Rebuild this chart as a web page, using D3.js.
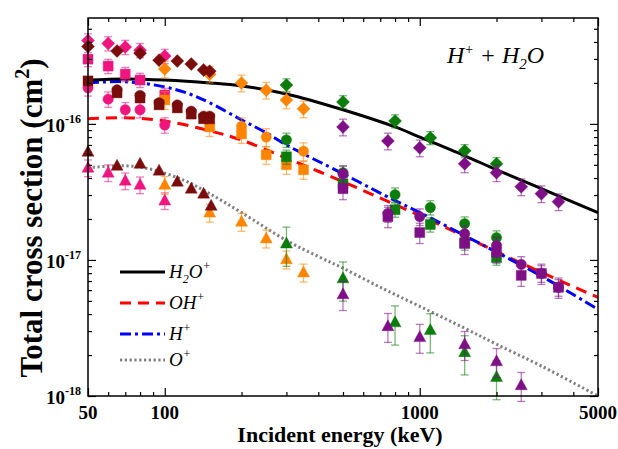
<!DOCTYPE html>
<html>
<head>
<meta charset="utf-8">
<script src="https://cdn.jsdelivr.net/npm/d3@7"></script>
<style>
body { margin: 0; background: #fff; }
svg { display: block; }
</style>
</head>
<body>
<div id="chart"></div>
<script>
// energies in keV, cross sections in cm^2, [energy, sigma]
var curveH2O = [[50,2.10e-16],[70,2.14e-16],[100,2.10e-16],[150,2.00e-16],[200,1.90e-16],[300,1.66e-16],[500,1.27e-16],[800,9.5e-17],[1000,8.0e-17],[1500,5.83e-17],[2000,4.6e-17],[3000,3.34e-17],[5000,2.23e-17]];
var curveOH = [[50,1.09e-16],[70,1.11e-16],[100,1.05e-16],[150,8.9e-17],[200,7.6e-17],[300,5.6e-17],[500,3.76e-17],[800,2.55e-17],[1000,2.12e-17],[1500,1.49e-17],[2000,1.15e-17],[3000,8.1e-18],[5000,5.3e-18]];
var curveH = [[50,2.00e-16],[70,2.04e-16],[100,1.87e-16],[125,1.66e-16],[150,1.43e-16],[200,1.07e-16],[250,8.6e-17],[300,7.0e-17],[500,4.3e-17],[800,2.73e-17],[1000,2.23e-17],[1500,1.51e-17],[2000,1.14e-17],[3000,7.6e-18],[5000,4.34e-18]];
var curveO = [[50,4.76e-17],[70,4.92e-17],[90,4.6e-17],[120,3.82e-17],[150,3.07e-17],[200,2.23e-17],[300,1.39e-17],[400,1.06e-17],[500,8.7e-18],[700,6.3e-18],[1000,4.56e-18],[1500,3.15e-18],[2000,2.4e-18],[3000,1.66e-18],[5000,1.0e-18]];

// measured points [energy, sigma]
var pinkDiamonds = [[50,4.1e-16],[60,3.9e-16],[70,3.67e-16],[80,3.48e-16],[100,3.15e-16]];
var pinkSquares = [[50,2.99e-16],[60,2.66e-16],[70,2.32e-16],[80,2.10e-16],[100,1.63e-16]];
var pinkCircles = [[50,1.84e-16],[60,1.52e-16],[70,1.27e-16],[80,1.27e-16],[100,9.8e-17]];
var pinkTriangles = [[50,4.76e-17],[60,4.38e-17],[70,3.82e-17],[80,3.57e-17],[100,2.73e-17]];
var redDiamonds = [[50,3.7e-16],[65,3.43e-16],[80,3.31e-16],[95,2.94e-16],[112,2.9e-16],[127,2.75e-16],[142,2.49e-16],[150,2.44e-16]];
var redCircles = [[65,1.78e-16],[80,1.62e-16],[95,1.43e-16],[112,1.38e-16],[127,1.24e-16],[142,1.14e-16],[150,1.14e-16]];
var redSquares = [[50,2.07e-16],[65,1.69e-16],[80,1.55e-16],[95,1.38e-16],[112,1.31e-16],[127,1.18e-16],[142,1.09e-16],[150,1.09e-16]];
var redTriangles = [[50,6.24e-17],[65,4.92e-17],[80,5.09e-17],[95,4.53e-17],[112,3.76e-17],[127,3.34e-17],[142,3.07e-17],[152,2.5e-17]];
var orangeDiamonds = [[100,2.53e-16],[150,2.32e-16],[200,2.0e-16],[250,1.77e-16],[300,1.50e-16],[350,1.29e-16]];
var orangeCircles = [[200,9.6e-17],[250,8.0e-17],[350,6.3e-17]];
var orangeSquares = [[100,1.5e-16],[150,9.5e-17],[200,8.45e-17],[250,5.93e-17],[300,5.01e-17],[350,4.6e-17]];
var orangeTriangles = [[100,3.57e-17],[150,2.23e-17],[200,1.91e-17],[250,1.44e-17],[300,1.01e-17],[350,8.1e-18]];
var greenDiamonds = [[300,1.93e-16],[500,1.45e-16],[800,1.05e-16],[1100,7.9e-17],[1500,6.34e-17],[2000,5.09e-17]];
var greenCircles = [[300,7.63e-17],[500,4.38e-17],[800,3.02e-17],[1100,2.43e-17],[1500,1.85e-17],[2000,1.46e-17]];
var greenSquares = [[300,5.73e-17],[500,3.63e-17],[800,2.34e-17],[1100,1.82e-17],[1500,1.34e-17],[2000,1.04e-17]];
var greenTriangles = [[300,1.32e-17],[500,7.32e-18],[800,3.48e-18],[1100,3.05e-18],[1500,2.1e-18],[2000,1.38e-18]];
var purpleDiamonds = [[500,9.5e-17],[750,7.5e-17],[1000,6.67e-17],[1500,5.09e-17],[2000,4.38e-17],[2500,3.45e-17],[3000,3.07e-17],[3500,2.68e-17]];
var purpleCircles = [[500,4.3e-17],[750,2.2e-17],[1000,2.08e-17],[1500,1.56e-17],[2000,1.28e-17],[2500,9.27e-18],[3000,7.96e-18],[3500,6.29e-18]];
var purpleSquares = [[500,3.34e-17],[750,2.08e-17],[1000,1.59e-17],[1500,1.32e-17],[2000,1.14e-17],[2500,7.7e-18],[3000,7.96e-18],[3500,6.29e-18]];
var purpleTriangles = [[500,5.59e-18],[750,3.26e-18],[1000,2.71e-18],[1500,2.4e-18],[2000,1.8e-18],[2500,1.2e-18]];

var xMajorTicks = [50, 100, 1000, 5000];
var xMinorTicks = [60, 70, 80, 90, 200, 300, 400, 500, 600, 700, 800, 900, 2000, 3000, 4000];
var yMajorTicks = [1e-18, 1e-17, 1e-16];
var yTickExponents = ['-18', '-17', '-16'];
var yMinorTicks = [2e-18, 3e-18, 4e-18, 5e-18, 6e-18, 7e-18, 8e-18, 9e-18, 2e-17, 3e-17, 4e-17, 5e-17, 6e-17, 7e-17, 8e-17, 9e-17, 2e-16, 3e-16, 4e-16, 5e-16];

var width = 618, height = 449;
var plotLeft = 88, plotRight = 598, plotTop = 18, plotBottom = 396;
var serif = '"Liberation Serif", "Times New Roman", serif';

var pink = '#f0147f', darkRed = '#7b0c0c', orange = '#ff8400', green = '#0a7d0a', purple = '#7e0f86';

var series = [
    {data: pinkDiamonds, color: pink, shape: 'diamond', err: 0.12},
    {data: pinkSquares, color: pink, shape: 'square', err: 0.12},
    {data: pinkCircles, color: pink, shape: 'circle', err: 0.13},
    {data: pinkTriangles, color: pink, shape: 'triangle', err: 0.14},
    {data: orangeDiamonds, color: orange, shape: 'diamond', err: 0.14},
    {data: orangeCircles, color: orange, shape: 'circle', err: 0.15},
    {data: orangeSquares, color: orange, shape: 'square', err: 0.15},
    {data: orangeTriangles, color: orange, shape: 'triangle', err: 0.15},
    {data: redDiamonds, color: darkRed, shape: 'diamond', err: 0},
    {data: redCircles, color: darkRed, shape: 'circle', err: 0},
    {data: redSquares, color: darkRed, shape: 'square', err: 0},
    {data: redTriangles, color: darkRed, shape: 'triangle', err: 0},
    {data: greenDiamonds, color: green, shape: 'diamond', err: 0.11},
    {data: greenCircles, color: green, shape: 'circle', err: 0.12},
    {data: greenSquares, color: green, shape: 'square', err: 0.12},
    {data: greenTriangles, color: green, shape: 'triangle', err: 0.32},
    {data: purpleDiamonds, color: purple, shape: 'diamond', err: 0.14},
    {data: purpleSquares, color: purple, shape: 'square', err: 0.17},
    {data: purpleCircles, color: purple, shape: 'circle', err: 0.14},
    {data: purpleTriangles, color: purple, shape: 'triangle', err: 0.24}
];

var curves = [
    {data: curveO, color: '#808080', dash: '2.2,2.6', label: 'O', sub: ''},
    {data: curveOH, color: '#ff0000', dash: '11,7', label: 'OH', sub: ''},
    {data: curveH, color: '#0000ff', dash: '11,4,3,4', label: 'H', sub: ''},
    {data: curveH2O, color: '#000000', dash: null, label: 'H2O', sub: '2'}
];

var x = d3.scaleLog().domain([50, 5000]).range([plotLeft, plotRight]);
var y = d3.scaleLog().domain([1e-18, 6e-16]).range([plotBottom, plotTop]);

var svg = d3.select('#chart')
    .append('svg')
    .attr('width', width)
    .attr('height', height);

svg.append('rect')
    .attr('width', width)
    .attr('height', height)
    .style('fill', 'white');

// curves
var line = d3.line()
    .x(function (d) { return x(d[0]); })
    .y(function (d) { return y(d[1]); })
    .curve(d3.curveCatmullRom.alpha(0.5));

svg.append('defs').append('clipPath').attr('id', 'clip')
    .append('rect')
    .attr('x', plotLeft).attr('y', plotTop)
    .attr('width', plotRight - plotLeft).attr('height', plotBottom - plotTop);

var curveGroup = svg.append('g').attr('clip-path', 'url(#clip)');
curves.forEach(function (c) {
    curveGroup.append('path')
        .datum(c.data)
        .attr('d', line)
        .style('fill', 'none')
        .style('stroke', c.color)
        .style('stroke-width', 3)
        .style('stroke-dasharray', c.dash);
});

// markers
function shapePath(shape) {
    if (shape == 'diamond') return 'M0,-6.5L6.5,0L0,6.5L-6.5,0Z';
    if (shape == 'square') return 'M-5,-5H5V5H-5Z';
    if (shape == 'triangle') return 'M0,-6.5L6,4.5L-6,4.5Z';
    return 'M5.2,0A5.2,5.2 0 1,1 -5.2,0A5.2,5.2 0 1,1 5.2,0Z';
}

var pointGroup = svg.append('g');
series.forEach(function (s) {
    var g = pointGroup.append('g');
    if (s.err > 0) {
        s.data.forEach(function (d) {
            var px = x(d[0]);
            var yTop = y(d[1] * (1 + s.err));
            var yBot = y(d[1] * (1 - s.err));
            var eg = g.append('g')
                .style('stroke', s.color)
                .style('stroke-opacity', 0.55)
                .style('stroke-width', 1.3);
            eg.append('line').attr('x1', px).attr('x2', px).attr('y1', yTop).attr('y2', yBot);
            eg.append('line').attr('x1', px - 4).attr('x2', px + 4).attr('y1', yTop).attr('y2', yTop);
            eg.append('line').attr('x1', px - 4).attr('x2', px + 4).attr('y1', yBot).attr('y2', yBot);
        });
    }
    g.selectAll('path.mark')
        .data(s.data)
        .enter()
        .append('path')
        .attr('class', 'mark')
        .attr('d', shapePath(s.shape))
        .attr('transform', function (d) { return 'translate(' + x(d[0]) + ',' + y(d[1]) + ')'; })
        .style('fill', s.color)
        .style('stroke', s.color)
        .style('stroke-opacity', 0.4)
        .style('stroke-width', 1);
});

// axes, ticks pointing inward on all four sides
function addAxis(axis, tx, ty) {
    var g = svg.append('g')
        .attr('transform', 'translate(' + tx + ',' + ty + ')')
        .call(axis);
    g.select('.domain').remove();
    g.selectAll('line').style('stroke', '#000').style('stroke-width', 1.2);
    g.selectAll('text').remove();
    return g;
}
addAxis(d3.axisBottom(x).tickValues(xMajorTicks).tickSize(-8), 0, plotBottom);
addAxis(d3.axisBottom(x).tickValues(xMinorTicks).tickSize(-4), 0, plotBottom);
addAxis(d3.axisTop(x).tickValues(xMajorTicks).tickSize(-8), 0, plotTop);
addAxis(d3.axisTop(x).tickValues(xMinorTicks).tickSize(-4), 0, plotTop);
addAxis(d3.axisLeft(y).tickValues(yMajorTicks).tickSize(-8), plotLeft, 0);
addAxis(d3.axisLeft(y).tickValues(yMinorTicks).tickSize(-4), plotLeft, 0);
addAxis(d3.axisRight(y).tickValues(yMajorTicks).tickSize(-8), plotRight, 0);
addAxis(d3.axisRight(y).tickValues(yMinorTicks).tickSize(-4), plotRight, 0);

svg.append('rect')
    .attr('x', plotLeft)
    .attr('y', plotTop)
    .attr('width', plotRight - plotLeft)
    .attr('height', plotBottom - plotTop)
    .style('fill', 'none')
    .style('stroke', '#000')
    .style('stroke-width', 1.5);

// tick labels
svg.selectAll('text.xlab')
    .data(xMajorTicks)
    .enter()
    .append('text')
    .attr('class', 'xlab')
    .attr('x', function (d) { return x(d); })
    .attr('y', 419)
    .attr('text-anchor', 'middle')
    .style('font-family', serif)
    .style('font-weight', 'bold')
    .style('font-size', '19px')
    .text(function (d) { return d; });

yMajorTicks.forEach(function (v, i) {
    var t = svg.append('text')
        .attr('x', 81)
        .attr('y', y(v) + 8)
        .attr('text-anchor', 'end')
        .style('font-family', serif)
        .style('font-weight', 'bold')
        .style('font-size', '19px');
    t.append('tspan').text('10');
    t.append('tspan')
        .attr('dy', -9)
        .style('font-size', '12px')
        .text(yTickExponents[i]);
});

// axis titles
svg.append('text')
    .attr('x', 340)
    .attr('y', 442)
    .attr('text-anchor', 'middle')
    .style('font-family', serif)
    .style('font-weight', 'bold')
    .style('font-size', '22px')
    .text('Incident energy (keV)');

var yTitle = svg.append('text')
    .attr('transform', 'translate(42,' + 218 + ') rotate(-90)')
    .attr('text-anchor', 'middle')
    .style('font-family', serif)
    .style('font-weight', 'bold')
    .style('font-size', '31px');
yTitle.append('tspan').text('Total cross section (cm');
yTitle.append('tspan').attr('dy', -13).style('font-size', '20px').text('2');
yTitle.append('tspan').attr('dy', 13).text(')');

// reaction label
var reaction = svg.append('text')
    .attr('x', 447)
    .attr('y', 63)
    .style('font-family', serif)
    .style('font-style', 'italic')
    .style('font-size', '24px');
reaction.append('tspan').text('H');
reaction.append('tspan').attr('dy', -9).style('font-size', '14px').text('+');
reaction.append('tspan').attr('dy', 9).text(' + H');
reaction.append('tspan').attr('dy', 6).style('font-size', '15px').text('2');
reaction.append('tspan').attr('dy', -6).text('O');

// legend
var legendItems = [curves[3], curves[1], curves[2], curves[0]];
var legendY = [272, 303, 334, 360];
legendItems.forEach(function (c, i) {
    var ly = legendY[i];
    svg.append('line')
        .attr('x1', 120).attr('x2', 165)
        .attr('y1', ly).attr('y2', ly)
        .style('stroke', c.color)
        .style('stroke-width', 3)
        .style('stroke-dasharray', c.dash);
    var t = svg.append('text')
        .attr('x', 169)
        .attr('y', ly + 6)
        .style('font-family', serif)
        .style('font-style', 'italic')
        .style('font-size', '19px');
    if (c.sub) {
        t.append('tspan').text('H');
        t.append('tspan').attr('dy', 5).style('font-size', '12px').text('2');
        t.append('tspan').attr('dy', -5).text('O');
    } else {
        t.append('tspan').text(c.label);
    }
    t.append('tspan').attr('dy', -8).style('font-size', '12px').text('+');
});
</script>
</body>
</html>
